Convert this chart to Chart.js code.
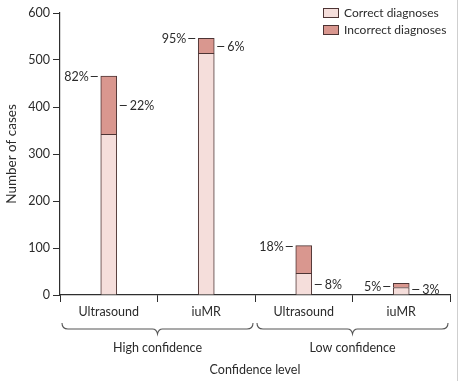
<!DOCTYPE html>
<html>
<head>
<meta charset="utf-8">
<script src="https://cdn.jsdelivr.net/npm/chart.js@4/dist/chart.umd.min.js"></script>
<style>
html,body{margin:0;padding:0;background:#fff;}
#wrap{width:459px;height:381px;position:relative;}
</style>
</head>
<body>
<div id="wrap"><canvas id="c" width="459" height="381"></canvas></div>
<script>
const categories = ['Ultrasound', 'iuMR', 'Ultrasound', 'iuMR'];
const groups = ['High confidence', 'Low confidence'];
const correct = [342, 514, 46, 16];
const incorrect = [124, 32, 59, 9];
const leftLabels = ['82%', '95%', '18%', '5%'];
const leftAt = [466, 546, 105, 19];
const rightLabels = ['22%', '6%', '8%', '3%'];
const rightAt = [404, 530, 23, 13];
const yTicks = [0, 100, 200, 300, 400, 500, 600];

const FONT = 'Lato, "Open Sans", sans-serif';
const TXT = '#2b2b2b';
const AX = '#2e2e2e';
const EDGE = '#4d3434';

const extras = {
  id: 'extras',
  afterDatasetsDraw(chart) {
    const ctx = chart.ctx;
    const x = chart.scales.x, y = chart.scales.y;
    ctx.save();
    ctx.font = '12.5px ' + FONT;
    ctx.fillStyle = TXT;
    ctx.strokeStyle = AX;
    ctx.lineWidth = 1;
    const meta = chart.getDatasetMeta(0);
    for (let i = 0; i < categories.length; i++) {
      const bar = meta.data[i];
      const half = bar.width / 2;
      const cx = bar.x;
      let py = Math.round(y.getPixelForValue(leftAt[i])) + 0.5;
      ctx.beginPath();
      ctx.moveTo(cx - half - 10, py); ctx.lineTo(cx - half - 3, py); ctx.stroke();
      ctx.textAlign = 'right'; ctx.textBaseline = 'middle';
      ctx.fillText(leftLabels[i], cx - half - 12, py);
      py = Math.round(y.getPixelForValue(rightAt[i])) + 0.5;
      ctx.beginPath();
      ctx.moveTo(cx + half + 3, py); ctx.lineTo(cx + half + 10, py); ctx.stroke();
      ctx.textAlign = 'left';
      ctx.fillText(rightLabels[i], cx + half + 13, py);
    }
    const sets = chart.data.datasets;
    sets.forEach((ds, k) => {
      const by = 8 + k * 17;
      ctx.fillStyle = ds.backgroundColor;
      ctx.fillRect(323, by, 16, 10);
      ctx.strokeStyle = EDGE;
      ctx.strokeRect(323.5, by + 0.5, 15, 9);
      ctx.fillStyle = TXT;
      ctx.textAlign = 'left'; ctx.textBaseline = 'middle';
      ctx.font = '12px ' + FONT;
      ctx.fillText(ds.label, 344, by + 5.5);
    });
    const catW = x.getPixelForValue(1) - x.getPixelForValue(0);
    ctx.strokeStyle = '#555';
    ctx.lineWidth = 1.1;
    groups.forEach((g, k) => {
      const l = x.getPixelForValue(k * 2) - catW / 2 + 2;
      const r = x.getPixelForValue(k * 2 + 1) + catW / 2 - 2;
      const m = (l + r) / 2;
      const top = 323, mid = 329, tip = 334;
      ctx.beginPath();
      ctx.moveTo(l, top);
      ctx.quadraticCurveTo(l, mid, l + 6, mid);
      ctx.lineTo(m - 5, mid);
      ctx.quadraticCurveTo(m - 1, mid, m, tip);
      ctx.quadraticCurveTo(m + 1, mid, m + 5, mid);
      ctx.lineTo(r - 6, mid);
      ctx.quadraticCurveTo(r, mid, r, top);
      ctx.stroke();
      ctx.fillStyle = TXT;
      ctx.textAlign = 'center'; ctx.textBaseline = 'middle';
      ctx.font = '12.5px ' + FONT;
      ctx.fillText(g, m, 348);
    });
    ctx.font = '12.5px ' + FONT;
    ctx.fillText('Confidence level', (x.left + x.right) / 2, 370);
    ctx.strokeStyle = '#cfcfcf';
    ctx.lineWidth = 1;
    ctx.beginPath(); ctx.moveTo(457.5, 0); ctx.lineTo(457.5, 381); ctx.stroke();
    ctx.restore();
  }
};

new Chart(document.getElementById('c'), {
  type: 'bar',
  data: {
    labels: categories,
    datasets: [
      { label: 'Correct diagnoses', data: correct, backgroundColor: '#f5dedb', borderColor: EDGE, borderWidth: 1, barThickness: 16 },
      { label: 'Incorrect diagnoses', data: incorrect, backgroundColor: '#d9978f', borderColor: EDGE, borderWidth: 1, barThickness: 16 }
    ]
  },
  options: {
    responsive: false,
    animation: false,
    layout: { padding: { top: 13, right: 9, left: 0, bottom: 0 } },
    plugins: { legend: { display: false }, tooltip: { enabled: false } },
    scales: {
      x: {
        stacked: true,
        grid: { drawOnChartArea: false, drawTicks: true, tickLength: 7, color: AX },
        border: { display: true, color: AX, width: 1.2 },
        ticks: { color: TXT, font: { family: FONT, size: 12.5 }, padding: 2, maxRotation: 0 },
        afterFit(s) { s.height = 86; }
      },
      y: {
        stacked: true,
        min: 0, max: 600,
        afterBuildTicks(s) { s.ticks = yTicks.map(v => ({ value: v })); },
        grid: { drawOnChartArea: false, drawTicks: true, tickLength: 7, color: AX },
        border: { display: true, color: AX, width: 1.2 },
        ticks: { color: TXT, font: { family: FONT, size: 12.5 }, padding: 3 },
        title: { display: true, text: 'Number of cases', color: TXT, font: { family: FONT, size: 13.5 }, padding: { top: 4, bottom: 0 } },
        afterFit(s) { s.width = 60; }
      }
    }
  },
  plugins: [extras]
});
</script>
</body>
</html>
